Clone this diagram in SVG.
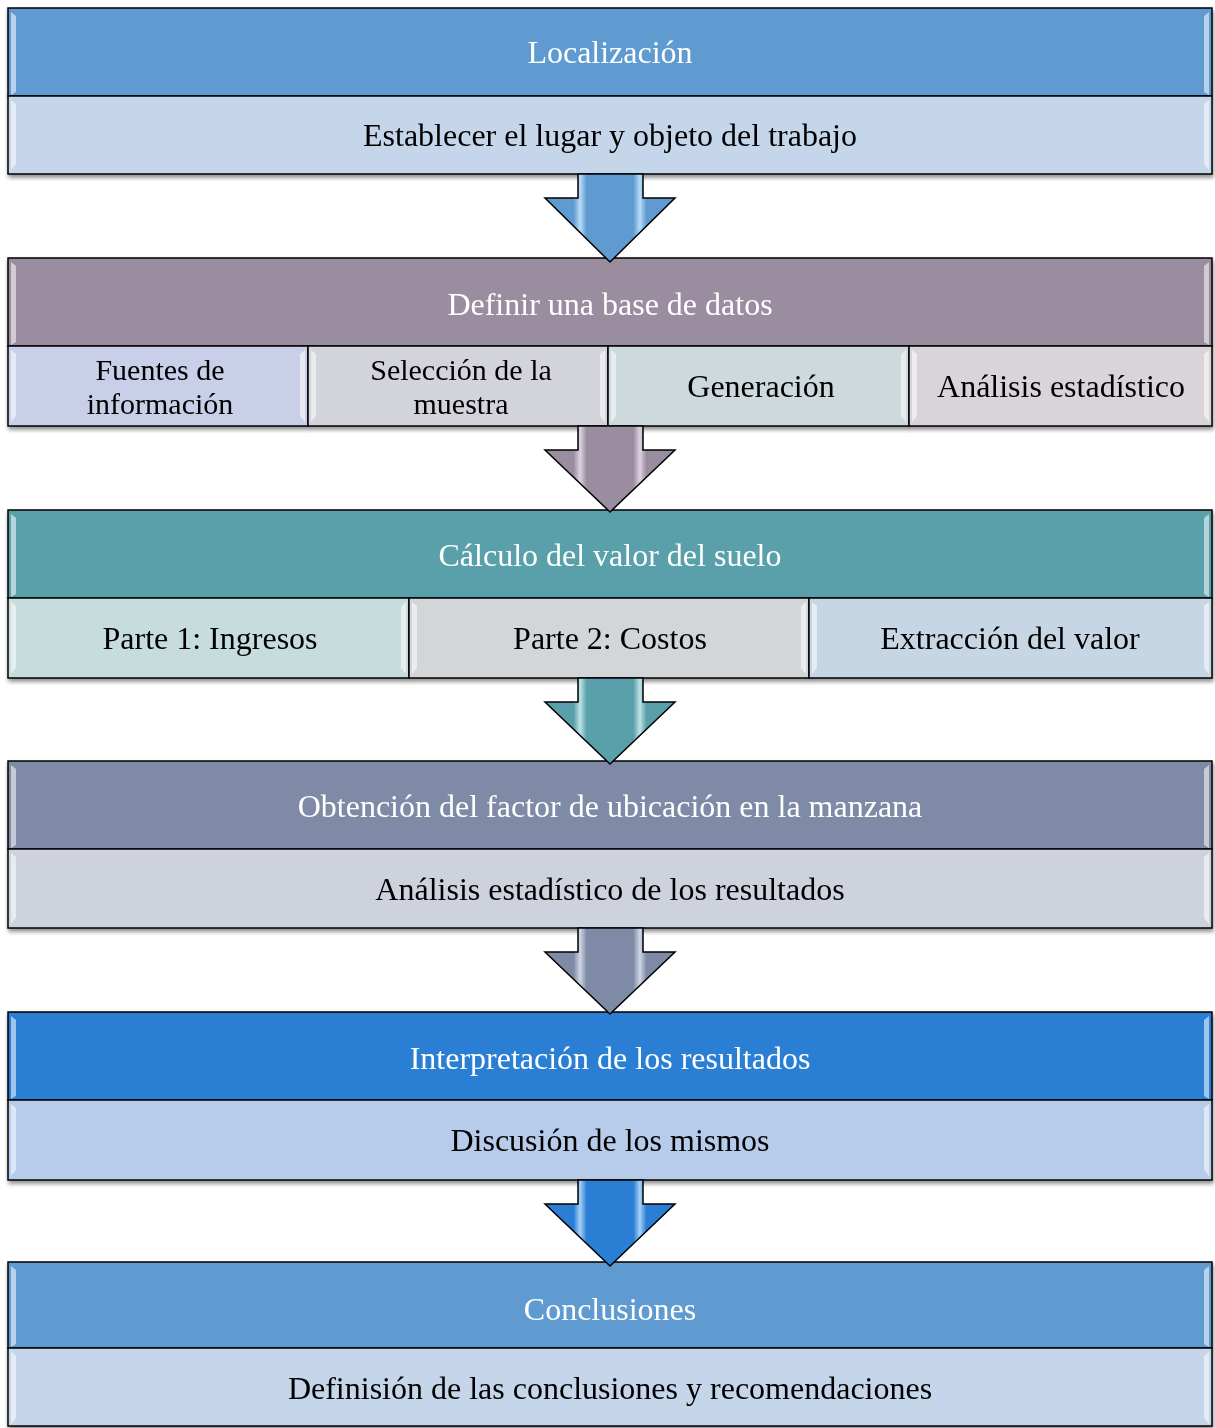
<svg xmlns="http://www.w3.org/2000/svg" width="1215" height="1428" viewBox="0 0 1215 1428">
<defs>
<style>
.t{font-family:"Liberation Serif","Times New Roman",serif;font-size:32px;text-anchor:middle}
.t2{font-family:"Liberation Serif","Times New Roman",serif;font-size:30px;text-anchor:middle}
.h{fill:#ffffff}
.s{fill:#000000}
.box{stroke:#000;stroke-width:1.5}
.arr{stroke:#000;stroke-width:1.5;stroke-linejoin:miter}
.hl{fill:#ffffff;opacity:0.55}
</style>
<filter id="sh" x="-5%" y="-5%" width="110%" height="120%">
<feGaussianBlur in="SourceAlpha" stdDeviation="2"/>
<feOffset dx="1" dy="3"/>
<feComponentTransfer><feFuncA type="linear" slope="0.45"/></feComponentTransfer>
<feMerge><feMergeNode/><feMergeNode in="SourceGraphic"/></feMerge>
</filter>
<linearGradient id="g1" x1="0" y1="0" x2="1" y2="0">
<stop offset="0" stop-color="#5f9bd0"/><stop offset="0.22" stop-color="#5f9bd0"/><stop offset="0.27" stop-color="#b8dcf6"/><stop offset="0.32" stop-color="#5f9bd0"/><stop offset="0.68" stop-color="#5f9bd0"/><stop offset="0.73" stop-color="#b8dcf6"/><stop offset="0.78" stop-color="#5f9bd0"/><stop offset="1" stop-color="#5f9bd0"/>
</linearGradient>
<linearGradient id="g2" x1="0" y1="0" x2="1" y2="0">
<stop offset="0" stop-color="#9b8da0"/><stop offset="0.22" stop-color="#9b8da0"/><stop offset="0.27" stop-color="#ddd4e0"/><stop offset="0.32" stop-color="#9b8da0"/><stop offset="0.68" stop-color="#9b8da0"/><stop offset="0.73" stop-color="#ddd4e0"/><stop offset="0.78" stop-color="#9b8da0"/><stop offset="1" stop-color="#9b8da0"/>
</linearGradient>
<linearGradient id="g3" x1="0" y1="0" x2="1" y2="0">
<stop offset="0" stop-color="#5aa0aa"/><stop offset="0.22" stop-color="#5aa0aa"/><stop offset="0.27" stop-color="#bfe3e7"/><stop offset="0.32" stop-color="#5aa0aa"/><stop offset="0.68" stop-color="#5aa0aa"/><stop offset="0.73" stop-color="#bfe3e7"/><stop offset="0.78" stop-color="#5aa0aa"/><stop offset="1" stop-color="#5aa0aa"/>
</linearGradient>
<linearGradient id="g4" x1="0" y1="0" x2="1" y2="0">
<stop offset="0" stop-color="#7f8ba6"/><stop offset="0.22" stop-color="#7f8ba6"/><stop offset="0.27" stop-color="#d0d6e4"/><stop offset="0.32" stop-color="#7f8ba6"/><stop offset="0.68" stop-color="#7f8ba6"/><stop offset="0.73" stop-color="#d0d6e4"/><stop offset="0.78" stop-color="#7f8ba6"/><stop offset="1" stop-color="#7f8ba6"/>
</linearGradient>
<linearGradient id="g5" x1="0" y1="0" x2="1" y2="0">
<stop offset="0" stop-color="#2a7fd4"/><stop offset="0.22" stop-color="#2a7fd4"/><stop offset="0.27" stop-color="#a6d0f6"/><stop offset="0.32" stop-color="#2a7fd4"/><stop offset="0.68" stop-color="#2a7fd4"/><stop offset="0.73" stop-color="#a6d0f6"/><stop offset="0.78" stop-color="#2a7fd4"/><stop offset="1" stop-color="#2a7fd4"/>
</linearGradient>
</defs>
<rect width="1215" height="1428" fill="#ffffff"/>

<g id="n1" filter="url(#sh)">
<rect class="box" x="8" y="8" width="1204" height="88" fill="#5f9bd0"/>
<rect class="box" x="8" y="96" width="1204" height="78" fill="#c5d5ea"/>
<path class="hl" d="M11,12 L16,16 L16,92 L11,95 Z"/>
<path class="hl" d="M11,100 L16,104 L16,164 L11,170 Z"/>
<path class="hl" d="M1209,12 L1204,16 L1204,92 L1209,95 Z"/>
<path class="hl" d="M1209,100 L1204,104 L1204,164 L1209,170 Z"/>
<text class="t h" x="610" y="63">Localización</text>
<text class="t s" x="610" y="146">Establecer el lugar y objeto del trabajo</text>
</g>

<g id="n2" filter="url(#sh)">
<rect class="box" x="8" y="258" width="1204" height="88" fill="#9b8da0"/>
<rect class="box" x="8" y="346" width="300" height="80" fill="#c9cfe8"/>
<rect class="box" x="308" y="346" width="300" height="80" fill="#d3d3dc"/>
<rect class="box" x="608" y="346" width="301" height="80" fill="#cdd9dc"/>
<rect class="box" x="909" y="346" width="303" height="80" fill="#d9d4d9"/>
<path class="hl" d="M11,262 L16,266 L16,342 L11,345 Z"/>
<path class="hl" d="M1209,262 L1204,266 L1204,342 L1209,345 Z"/>
<path class="hl" d="M11,350 L16,354 L16,416 L11,422 Z"/>
<path class="hl" d="M305,350 L300,354 L300,416 L305,422 Z"/>
<path class="hl" d="M311,350 L316,354 L316,416 L311,422 Z"/>
<path class="hl" d="M605,350 L600,354 L600,416 L605,422 Z"/>
<path class="hl" d="M611,350 L616,354 L616,416 L611,422 Z"/>
<path class="hl" d="M906,350 L901,354 L901,416 L906,422 Z"/>
<path class="hl" d="M912,350 L917,354 L917,416 L912,422 Z"/>
<path class="hl" d="M1209,350 L1204,354 L1204,416 L1209,422 Z"/>
<text class="t h" x="610" y="315">Definir una base de datos</text>
<text class="t2 s" x="160" y="380">Fuentes de</text>
<text class="t2 s" x="160" y="414">información</text>
<text class="t2 s" x="461" y="380">Selección de la</text>
<text class="t2 s" x="461" y="414">muestra</text>
<text class="t s" x="761" y="397">Generación</text>
<text class="t s" x="1061" y="397">Análisis estadístico</text>
</g>

<g id="n3" filter="url(#sh)">
<rect class="box" x="8" y="510" width="1204" height="88" fill="#5aa0aa"/>
<rect class="box" x="8" y="598" width="401" height="80" fill="#c7dcdc"/>
<rect class="box" x="409" y="598" width="400" height="80" fill="#d3d6d8"/>
<rect class="box" x="809" y="598" width="403" height="80" fill="#c7d6e4"/>
<path class="hl" d="M11,514 L16,518 L16,594 L11,597 Z"/>
<path class="hl" d="M1209,514 L1204,518 L1204,594 L1209,597 Z"/>
<path class="hl" d="M11,602 L16,606 L16,668 L11,674 Z"/>
<path class="hl" d="M406,602 L401,606 L401,668 L406,674 Z"/>
<path class="hl" d="M412,602 L417,606 L417,668 L412,674 Z"/>
<path class="hl" d="M806,602 L801,606 L801,668 L806,674 Z"/>
<path class="hl" d="M812,602 L817,606 L817,668 L812,674 Z"/>
<path class="hl" d="M1209,602 L1204,606 L1204,668 L1209,674 Z"/>
<text class="t h" x="610" y="566">Cálculo del valor del suelo</text>
<text class="t s" x="210" y="649">Parte 1: Ingresos</text>
<text class="t s" x="610" y="649">Parte 2: Costos</text>
<text class="t s" x="1010" y="649">Extracción del valor</text>
</g>

<g id="n4" filter="url(#sh)">
<rect class="box" x="8" y="761" width="1204" height="88" fill="#7f8ba6"/>
<rect class="box" x="8" y="849" width="1204" height="79" fill="#cdd2dc"/>
<path class="hl" d="M11,765 L16,769 L16,845 L11,848 Z"/>
<path class="hl" d="M1209,765 L1204,769 L1204,845 L1209,848 Z"/>
<path class="hl" d="M11,853 L16,857 L16,918 L11,924 Z"/>
<path class="hl" d="M1209,853 L1204,857 L1204,918 L1209,924 Z"/>
<text class="t h" x="610" y="817">Obtención del factor de ubicación en la manzana</text>
<text class="t s" x="610" y="900">Análisis estadístico de los resultados</text>
</g>

<g id="n5" filter="url(#sh)">
<rect class="box" x="8" y="1012" width="1204" height="88" fill="#2a7fd4"/>
<rect class="box" x="8" y="1100" width="1204" height="80" fill="#b7cbea"/>
<path class="hl" d="M11,1016 L16,1020 L16,1096 L11,1099 Z"/>
<path class="hl" d="M1209,1016 L1204,1020 L1204,1096 L1209,1099 Z"/>
<path class="hl" d="M11,1104 L16,1108 L16,1170 L11,1176 Z"/>
<path class="hl" d="M1209,1104 L1204,1108 L1204,1170 L1209,1176 Z"/>
<text class="t h" x="610" y="1069">Interpretación de los resultados</text>
<text class="t s" x="610" y="1151">Discusión de los mismos</text>
</g>

<g id="n6" filter="url(#sh)">
<rect class="box" x="8" y="1262" width="1204" height="86" fill="#5f9bd0"/>
<rect class="box" x="8" y="1348" width="1204" height="78" fill="#c5d5ea"/>
<path class="hl" d="M11,1266 L16,1270 L16,1344 L11,1347 Z"/>
<path class="hl" d="M1209,1266 L1204,1270 L1204,1344 L1209,1347 Z"/>
<path class="hl" d="M11,1352 L16,1356 L16,1418 L11,1424 Z"/>
<path class="hl" d="M1209,1352 L1204,1356 L1204,1418 L1209,1424 Z"/>
<text class="t h" x="610" y="1320">Conclusiones</text>
<text class="t s" x="610" y="1399">Definisión de las conclusiones y recomendaciones</text>
</g>

<g id="connectors">
<g id="arrow1" transform="translate(0,174)">
<path class="arr" d="M578,0 L643,0 L643,24 L675,24 L610,88 L545,24 L578,24 Z" fill="url(#g1)"/>
</g>
<g id="arrow2" transform="translate(0,426)">
<path class="arr" d="M578,0 L643,0 L643,24 L675,24 L610,86 L545,24 L578,24 Z" fill="url(#g2)"/>
</g>
<g id="arrow3" transform="translate(0,678)">
<path class="arr" d="M578,0 L643,0 L643,24 L675,24 L610,86 L545,24 L578,24 Z" fill="url(#g3)"/>
</g>
<g id="arrow4" transform="translate(0,928)">
<path class="arr" d="M578,0 L643,0 L643,24 L675,24 L610,86 L545,24 L578,24 Z" fill="url(#g4)"/>
</g>
<g id="arrow5" transform="translate(0,1180)">
<path class="arr" d="M578,0 L643,0 L643,24 L675,24 L610,86 L545,24 L578,24 Z" fill="url(#g5)"/>
</g>
</g>
</svg>
